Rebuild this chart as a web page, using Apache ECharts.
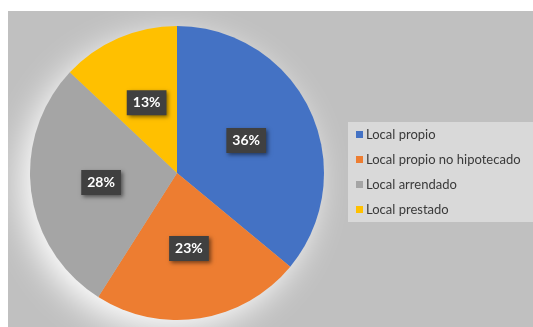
<!DOCTYPE html>
<html>
<head>
<meta charset="utf-8">
<script src="https://cdn.jsdelivr.net/npm/echarts@6/dist/echarts.min.js"></script>
<style>
html,body{margin:0;padding:0;background:#fff;}
#c{width:533px;height:327px;}
</style>
</head>
<body>
<div id="c"></div>
<script>
const categories = ["Local propio", "Local propio no hipotecado", "Local arrendado", "Local prestado"];
const values = [36, 23, 28, 13];
const colors = ["#4472c4", "#ed7d31", "#a5a5a5", "#ffc000"];

const chart = echarts.init(document.getElementById('c'), null, {renderer: 'canvas'});
chart.setOption({
  animation: false,
  textStyle: {fontFamily: 'Lato'},
  graphic: [{
    type: 'rect', z: -10, silent: true,
    shape: {x: 8, y: 11, width: 525, height: 316},
    style: {fill: '#c0c0c0'}
  }],
  legend: {
    orient: 'vertical',
    left: 348, top: 122,
    backgroundColor: '#d9d9d9',
    padding: [6, 26, 6, 8],
    itemGap: 12,
    itemWidth: 7, itemHeight: 7,
    icon: 'rect',
    data: categories,
    textStyle: {fontSize: 13, color: '#3a3a3a', fontFamily: 'Lato', padding: [0, 0, 0, -2]}
  },
  series: [{
    type: 'pie',
    z: 1,
    silent: true,
    center: [177, 173],
    radius: [0, 146],
    label: {show: false},
    labelLine: {show: false},
    data: [{name: '_shadow', value: 1, itemStyle: {color: '#c0c0c0'}}],
    itemStyle: {shadowColor: 'rgba(255,255,255,1)', shadowBlur: 35, shadowOffsetX: -9, shadowOffsetY: 10},
    emphasis: {disabled: true},
    tooltip: {show: false}
  }, {
    type: 'pie',
    z: 2,
    center: [177, 173],
    radius: [0, 147],
    startAngle: 90,
    clockwise: true,
    data: categories.map((n, i) => ({name: n, value: values[i], itemStyle: {color: colors[i]}})),
    label: {
      position: 'inside',
      formatter: p => p.value + '%',
      color: '#fff',
      fontWeight: 'bold',
      fontSize: 14,
      fontFamily: 'Lato',
      backgroundColor: '#404040',
      padding: [6, 6, 5, 6],
      shadowColor: 'rgba(0,0,0,0.5)', shadowBlur: 4, shadowOffsetX: 2, shadowOffsetY: 2
    },
    labelLine: {show: false},
    emphasis: {disabled: true}
  }]
});
</script>
</body>
</html>
